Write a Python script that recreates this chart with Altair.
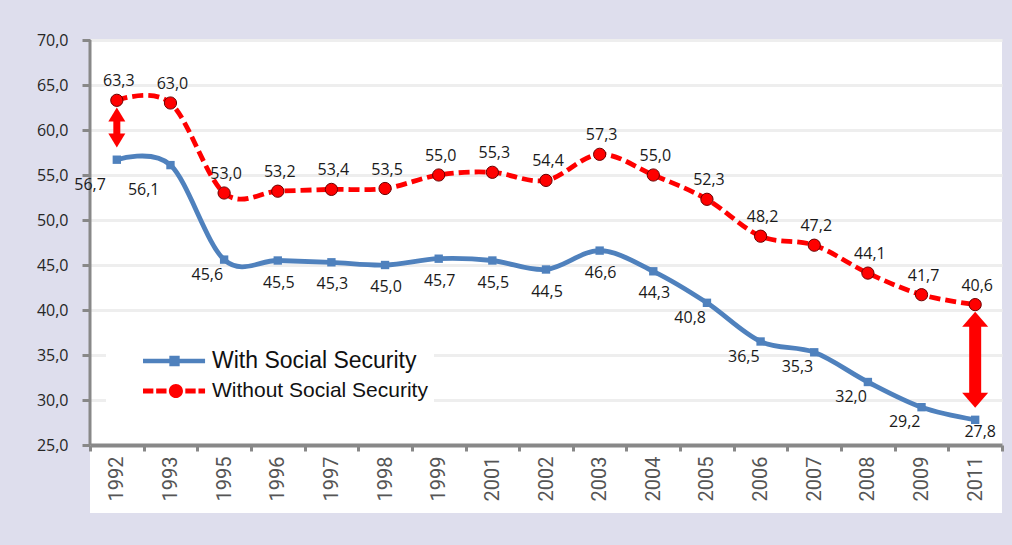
import altair as alt
import pandas as pd

# ---- data -------------------------------------------------------------
years = ["1992", "1993", "1995", "1996", "1997", "1998", "1999", "2001", "2002",
         "2003", "2004", "2005", "2006", "2007", "2008", "2009", "2011"]
with_ss = [56.7, 56.1, 45.6, 45.5, 45.3, 45.0, 45.7, 45.5, 44.5,
           46.6, 44.3, 40.8, 36.5, 35.3, 32.0, 29.2, 27.8]
without_ss = [63.3, 63.0, 53.0, 53.2, 53.4, 53.5, 55.0, 55.3, 54.4,
              57.3, 55.0, 52.3, 48.2, 47.2, 44.1, 41.7, 40.6]
series_names = ["With Social Security", "Without Social Security"]
y_ticks = [25, 30, 35, 40, 45, 50, 55, 60, 65, 70]
arrow_years = ["1992", "2011"]

# where each "with" label sits relative to its point
with_label_side = ["bl", "bl", "l", "b", "b", "b", "b", "b", "b",
                   "b", "b", "l", "l", "l", "l", "l", "br"]

# ---- styling ------------------------------------------------------------
BLUE = "#4F81BD"
RED = "#FF0000"
FRAME = "#DEDEED"
AXIS_GREY = "#888888"
PLOT_W, PLOT_H = 912, 473
PX_PER_UNIT = 9.0
Y_MAX = max(y_ticks)
Y_MIN = Y_MAX - PLOT_H / PX_PER_UNIT
X_AXIS_SHIFT = -(min(y_ticks) - Y_MIN) * PX_PER_UNIT

LABEL_STYLE = {
    "bl": ("right", -11, 25),
    "l": ("right", -1, 15),
    "b": ("center", 1, 22),
    "br": ("center", 5, 12),
    "t": ("center", 2, -19),
}


def fmt(v):
    return f"{v:.1f}".replace(".", ",")


df = pd.DataFrame({
    "year": years * 2,
    "value": with_ss + without_ss,
    "series": [series_names[0]] * len(years) + [series_names[1]] * len(years),
    "side": with_label_side + ["t"] * len(years),
})
df["label"] = df["value"].map(fmt)
df_with = df[df.series == series_names[0]]
df_without = df[df.series == series_names[1]]

x_axis = alt.Axis(
    title=None, labelAngle=270, labelAlign="right", labelBaseline="middle",
    labelFont="Liberation Sans Narrow, Roboto", labelFontSize=20,
    labelColor="#555555", labelPadding=5, tickBand="extent", tickSize=6,
    tickWidth=3, tickColor=AXIS_GREY, domainColor=AXIS_GREY, domainWidth=4,
    offset=X_AXIS_SHIFT, grid=False,
)
y_axis = alt.Axis(
    title=None, values=y_ticks, domain=False, grid=True, gridColor="#EEEEEE",
    gridWidth=3, tickColor=AXIS_GREY, tickWidth=3, tickSize=8,
    labelExpr="replace(format(datum.value, '.1f'), '.', ',')",
    labelFont="Open Sans", labelFontSize=16, labelColor="#262626",
    labelPadding=14,
)


def xpos():
    return alt.X("year:N", sort=years, bandPosition=0.5,
                 scale=alt.Scale(type="band", domain=years,
                                 paddingInner=0, paddingOuter=0),
                 axis=x_axis)


def ypos(field="value"):
    return alt.Y(f"{field}:Q",
                 scale=alt.Scale(domain=[Y_MIN, Y_MAX], nice=False, zero=False),
                 axis=y_axis)


# y-axis line spanning the tick range only
y_axis_line = alt.Chart(pd.DataFrame({"lo": [min(y_ticks)], "hi": [max(y_ticks)]})).mark_rule(
    color=AXIS_GREY, strokeWidth=3
).encode(x=alt.value(0), y=ypos("hi"), y2="lo:Q")

line_with = alt.Chart(df_with).mark_line(
    color=BLUE, strokeWidth=4.8, interpolate="cardinal"
).encode(x=xpos(), y=ypos())

line_without = alt.Chart(df_without).mark_line(
    color=RED, strokeWidth=4.8, strokeDash=[11, 5], interpolate="cardinal"
).encode(x=xpos(), y=ypos())

pts_with = alt.Chart(df_with).mark_point(
    shape="square", filled=True, size=70, color=BLUE, opacity=1
).encode(x=xpos(), y=ypos())

pts_without = alt.Chart(df_without).mark_point(
    shape="circle", filled=True, size=150, color=RED, opacity=1,
    stroke="#6b0000", strokeWidth=1
).encode(x=xpos(), y=ypos())

# legend drawn from custom symbols: line segment plus marker
SYM_WITH = ("M-0.34,-0.05L0.98,-0.05L0.98,0.05L-0.34,0.05Z"
            "M0.22,-0.11L0.44,-0.11L0.44,0.11L0.22,0.11Z")
SYM_WITHOUT = ("M-0.34,-0.055L-0.12,-0.055L-0.12,0.055L-0.34,0.055Z"
               "M-0.06,-0.055L0.16,-0.055L0.16,0.055L-0.06,0.055Z"
               "M0.22,-0.055L0.50,-0.055L0.50,0.055L0.22,0.055Z"
               "M0.56,-0.055L0.78,-0.055L0.78,0.055L0.56,0.055Z"
               "M0.84,-0.055L0.98,-0.055L0.98,0.055L0.84,0.055Z"
               "M0.51,0A0.15,0.15 0 1,1 0.21,0A0.15,0.15 0 1,1 0.51,0Z")

legend = alt.Legend(
    title=None, orient="none", legendX=16, legendY=301, fillColor="white",
    padding=6, symbolSize=94 * 94, symbolStrokeWidth=0, symbolOpacity=1,
    labelFont="Liberation Sans", labelColor="#111111", labelOffset=6,
    labelFontSize=alt.ExprRef(f"datum.value === '{series_names[0]}' ? 23 : 21"),
    clipHeight=28, rowPadding=2, labelLimit=400,
)
legend_layer = alt.Chart(df).mark_point(filled=True, opacity=0).encode(
    x=xpos(), y=ypos(),
    color=alt.Color("series:N", scale=alt.Scale(domain=series_names, range=[BLUE, RED]),
                    legend=legend),
    shape=alt.Shape("series:N", scale=alt.Scale(domain=series_names,
                                                range=[SYM_WITH, SYM_WITHOUT]),
                    legend=legend),
)

# value labels
text_layers = []
for side, (align, dx, dy) in LABEL_STYLE.items():
    text_layers.append(
        alt.Chart(df).transform_filter(alt.datum.side == side).mark_text(
            align=align, baseline="middle", dx=dx, dy=dy,
            font="Open Sans", fontSize=16, color="#1a1a1a"
        ).encode(x=xpos(), y=ypos(), text="label:N")
    )


# double-headed arrows marking the gap between the two series
def gap_arrow(year, shaft, head_w, head_h):
    i = years.index(year)
    hi = without_ss[i] - 0.8
    lo = with_ss[i] + 1.35
    d = pd.DataFrame({"year": [year], "hi": [hi], "lo": [lo]})
    r = head_h / (head_w / 2)
    base = alt.Chart(d)
    shaft_mark = base.mark_rule(
        color=RED, strokeWidth=shaft, strokeCap="butt",
        yOffset=head_h - 1, y2Offset=-(head_h - 1)
    ).encode(x=xpos(), y=ypos("hi"), y2="lo:Q")
    up = base.mark_point(
        shape=f"M0,0L1,{r:.3f}L-1,{r:.3f}Z", filled=True, size=head_w ** 2,
        color=RED, opacity=1, strokeWidth=0
    ).encode(x=xpos(), y=ypos("hi"))
    down = base.mark_point(
        shape=f"M0,0L1,{-r:.3f}L-1,{-r:.3f}Z", filled=True, size=head_w ** 2,
        color=RED, opacity=1, strokeWidth=0
    ).encode(x=xpos(), y=ypos("lo"))
    return [shaft_mark, up, down]


arrows = gap_arrow(arrow_years[0], 7, 17, 14) + gap_arrow(arrow_years[1], 12, 26, 15)

chart = alt.layer(
    legend_layer, y_axis_line, line_with, line_without, pts_with, pts_without,
    *text_layers, *arrows
).properties(
    width=PLOT_W, height=PLOT_H,
    autosize=alt.AutoSizeParams(type="none"),
    padding={"left": 90, "top": 40, "right": 10, "bottom": 32},
    background=FRAME,
).configure_view(fill="white", stroke=None)

chart.save("out.html", embed_options={"renderer": "svg", "actions": False})
